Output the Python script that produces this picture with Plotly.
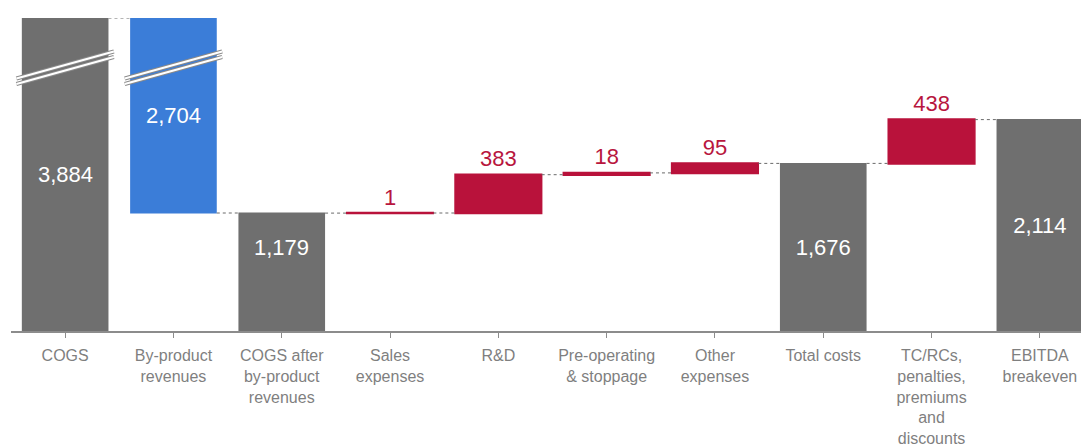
import plotly.graph_objects as go

categories = ["COGS", "By-product<br>revenues", "COGS after<br>by-product<br>revenues",
              "Sales<br>expenses", "R&D", "Pre-operating<br>& stoppage", "Other<br>expenses",
              "Total costs", "TC/RCs,<br>penalties,<br>premiums<br>and<br>discounts",
              "EBITDA<br>breakeven"]
values = [3884, -2704, 1179, 1, 383, 18, 95, 1676, 438, 2114]
measures = ["absolute", "relative", "absolute", "relative", "relative", "relative",
            "relative", "absolute", "relative", "absolute"]
y_top = 3130          # axis break level
broken = [0, 1]       # bars cut by the axis break

GRAY = "#6f6f6f"
BLUE = "#3b7dd8"
RED = "#b9123b"
LABEL_RED = "#b8163e"
FONT = "Liberation Sans, Arial, sans-serif"

labels = [f"{abs(v):,}" for v in values]
textpos = []
for i, (m, v) in enumerate(zip(measures, values)):
    if i in broken or i == 2:
        textpos.append("none")
    elif m == "relative" and v > 0:
        textpos.append("outside")
    else:
        textpos.append("inside")

fig = go.Figure(go.Waterfall(
    x=list(range(len(categories))),
    y=values,
    measure=measures,
    text=labels,
    texttemplate="%{text}",
    textposition=textpos,
    insidetextfont=dict(color="white", size=22, family=FONT),
    outsidetextfont=dict(color=LABEL_RED, size=22, family=FONT),
    insidetextanchor="middle",
    constraintext="none",
    totals=dict(marker=dict(color=GRAY)),
    decreasing=dict(marker=dict(color=BLUE)),
    increasing=dict(marker=dict(color=RED, line=dict(color=RED, width=1.5))),
    connector=dict(mode="between", line=dict(color="#6a6a6a", width=1, dash="dot")),
    width=0.8,
    showlegend=False,
    hoverinfo="skip",
))

# labels of the broken bars: centred in their visible part
after_byproduct = values[0] + values[1]
annotations = [
    dict(x=0, y=y_top / 2, text=labels[0]),
    dict(x=1, y=(y_top + after_byproduct) / 2, text=labels[1]),
    dict(x=2, y=values[7] / 2, text=labels[2]),   # aligned with the Total costs label
]
annotations = [dict(a, xref="x", yref="y", showarrow=False,
                    font=dict(color="white", size=22, family=FONT)) for a in annotations]

shapes = []
# dotted connector at the break level between the two broken bars
shapes.append(dict(type="line", xref="x", yref="y", x0=broken[0] + 0.4, x1=broken[1] - 0.4,
                   y0=y_top, y1=y_top, line=dict(color="#6a6a6a", width=1, dash="dot")))
# axis-break marks
for b in broken:
    for off in (0, 55):
        for col, w in (("#8a8a8a", 4), ("white", 2.2)):
            shapes.append(dict(type="line", xref="x", yref="y",
                               x0=b - 0.45, x1=b + 0.45,
                               y0=y_top - 660 + off, y1=y_top - 390 + off,
                               line=dict(color=col, width=w)))

fig.update_layout(
    width=1081, height=446,
    margin=dict(l=11, r=0, t=18, b=115, autoexpand=False),
    paper_bgcolor="white", plot_bgcolor="white",
    font=dict(family=FONT, color="#7f7f7f", size=16),
    shapes=shapes,
    annotations=annotations,
    bargap=0.2,
)
fig.update_xaxes(
    tickmode="array", tickvals=list(range(len(categories))), ticktext=categories,
    range=[-0.5, 9.38], showgrid=False, zeroline=False, automargin=False,
    showline=True, linecolor="#8c8c8c", linewidth=1.5,
    ticks="outside", ticklen=5, tickcolor="#8c8c8c",
    tickfont=dict(size=16, color="#7f7f7f", family=FONT),
    ticklabelstandoff=4,
)
fig.update_yaxes(range=[0, y_top], visible=False, showgrid=False, zeroline=False,
                 automargin=False)

fig.write_html("out.html",
               config=dict(displayModeBar=False),
               post_script="document.body.style.margin='0';"
                           "document.body.style.overflow='hidden';")
